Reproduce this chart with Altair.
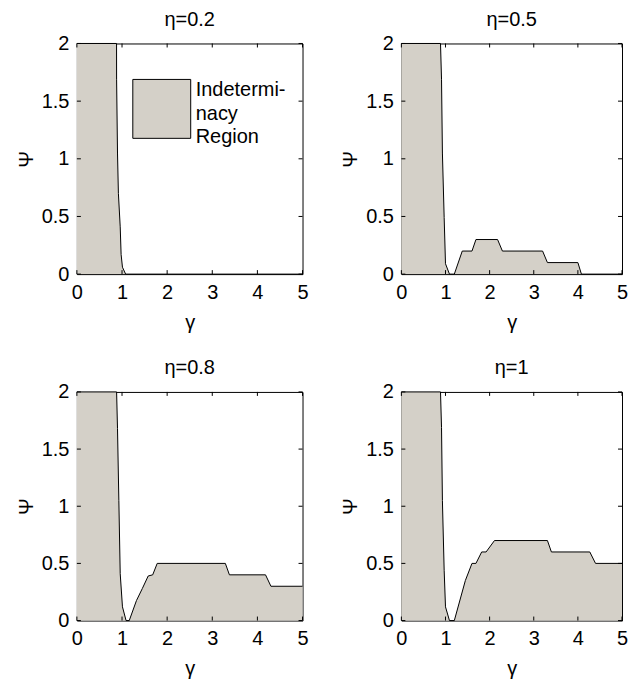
import altair as alt
import pandas as pd

# ---- data ----
titles = ["η=0.2", "η=0.5", "η=0.8", "η=1"]

gamma_a = [0, 0.879, 0.88, 0.90, 0.92, 0.96, 0.98, 1.01, 1.08, 5.0]
psi_a   = [2, 2.00, 1.69, 1.05, 0.70, 0.41, 0.17, 0.06, 0.00, 0.0]

gamma_b = [0, 0.887, 0.91, 0.93, 0.97, 1.00, 1.09, 1.20, 1.38, 1.60, 1.69, 2.18, 2.29, 3.20, 3.31, 4.00, 4.08, 5.0]
psi_b   = [2, 2.00, 1.69, 1.05, 0.49, 0.09, 0.00, 0.00, 0.20, 0.20, 0.30, 0.30, 0.20, 0.20, 0.10, 0.10, 0.00, 0.0]

gamma_c = [0, 0.88, 0.90, 0.93, 0.96, 1.01, 1.09, 1.16, 1.32, 1.45, 1.58, 1.68, 1.78, 3.29, 3.38, 4.18, 4.30, 5.0]
psi_c   = [2, 2.00, 1.68, 1.05, 0.41, 0.12, 0.00, 0.00, 0.175, 0.28, 0.39, 0.40, 0.50, 0.50, 0.40, 0.40, 0.30, 0.3]

gamma_d = [0, 0.887, 0.91, 0.93, 0.97, 1.00, 1.09, 1.20, 1.45, 1.60, 1.69, 1.82, 1.92, 2.11, 3.31, 3.40, 4.27, 4.40, 5.0]
psi_d   = [2, 2.00, 1.69, 1.05, 0.44, 0.12, 0.00, 0.00, 0.35, 0.50, 0.50, 0.60, 0.60, 0.70, 0.70, 0.60, 0.60, 0.50, 0.5]

gamma_ticks = [0, 1, 2, 3, 4, 5]
psi_ticks = [0, 0.5, 1, 1.5, 2]

legend_lines = ["Indetermi-", "nacy", "Region"]

# ---- style ----
FILL = "#d4d0c8"
FONT = "Liberation Sans"
FS = 20
TL = 4


def panel(title, g, p, W, H, legend=False):
    df = pd.DataFrame({"gamma": g, "psi": p})
    base = alt.Chart(df)
    x = alt.X("gamma:Q", scale=alt.Scale(domain=[0, 5], nice=False, zero=False),
              axis=alt.Axis(values=gamma_ticks, format="d", title="γ", ticks=False,
                            domain=False, grid=False, labelFlush=False, labelPadding=8,
                            titlePadding=10, labelOverlap=False))
    y = alt.Y("psi:Q", scale=alt.Scale(domain=[0, 2], nice=False, zero=False),
              axis=alt.Axis(values=psi_ticks, format="~g", title="Ψ", ticks=False,
                            domain=False, grid=False, labelFlush=False, labelPadding=8,
                            titlePadding=5, labelOverlap=False))
    area = base.mark_area(color=FILL, opacity=1).encode(x=x, y=y)
    line = base.mark_line(color="black", strokeWidth=1).encode(
        x="gamma:Q", y="psi:Q")
    tx = pd.DataFrame({"gamma": gamma_ticks})
    ty = pd.DataFrame({"psi": psi_ticks})
    tb = alt.Chart(tx).mark_rule(color="black").encode(
        x="gamma:Q", y=alt.value(H), y2=alt.value(H - TL))
    tt = alt.Chart(tx).mark_rule(color="black").encode(
        x="gamma:Q", y=alt.value(0), y2=alt.value(TL))
    tl = alt.Chart(ty).mark_rule(color="black").encode(
        y="psi:Q", x=alt.value(0), x2=alt.value(TL))
    tr = alt.Chart(ty).mark_rule(color="black").encode(
        y="psi:Q", x=alt.value(W), x2=alt.value(W - TL))
    head = alt.Chart(pd.DataFrame({"t": [title]})).mark_text(
        font=FONT, fontSize=FS, baseline="alphabetic", align="center", color="black"
    ).encode(text="t:N", x=alt.value(W / 2), y=alt.value(-18))
    layers = [area, line, tb, tt, tl, tr, head]
    if legend:
        box = alt.Chart(pd.DataFrame({"k": [0]})).mark_rect(
            color=FILL, stroke="black", strokeWidth=1).encode(
            x=alt.value(56), x2=alt.value(114), y=alt.value(36), y2=alt.value(95))
        txt = alt.Chart(pd.DataFrame({"k": [0]})).mark_text(
            text=legend_lines, align="left", baseline="alphabetic", lineHeight=23.5,
            font=FONT, fontSize=FS, color="black").encode(x=alt.value(119), y=alt.value(53))
        layers += [box, txt]
    return alt.layer(*layers).properties(width=W, height=H)


top = alt.hconcat(panel(titles[0], gamma_a, psi_a, 226, 231, legend=True),
                  panel(titles[1], gamma_b, psi_b, 221, 231), spacing=30)
bottom = alt.hconcat(panel(titles[2], gamma_c, psi_c, 226, 229),
                     panel(titles[3], gamma_d, psi_d, 221, 229), spacing=30)

chart = alt.vconcat(top, bottom, spacing=24).properties(
    background="white",
    padding={"left": 7, "top": 0, "right": 0, "bottom": 0}
).configure_view(
    stroke="black", strokeWidth=1
).configure_axis(
    labelFont=FONT, labelFontSize=FS, labelColor="black",
    titleFont=FONT, titleFontSize=FS, titleColor="black", titleFontWeight="normal"
)

chart.save("out.html", embed_options={"renderer": "svg", "actions": False})
